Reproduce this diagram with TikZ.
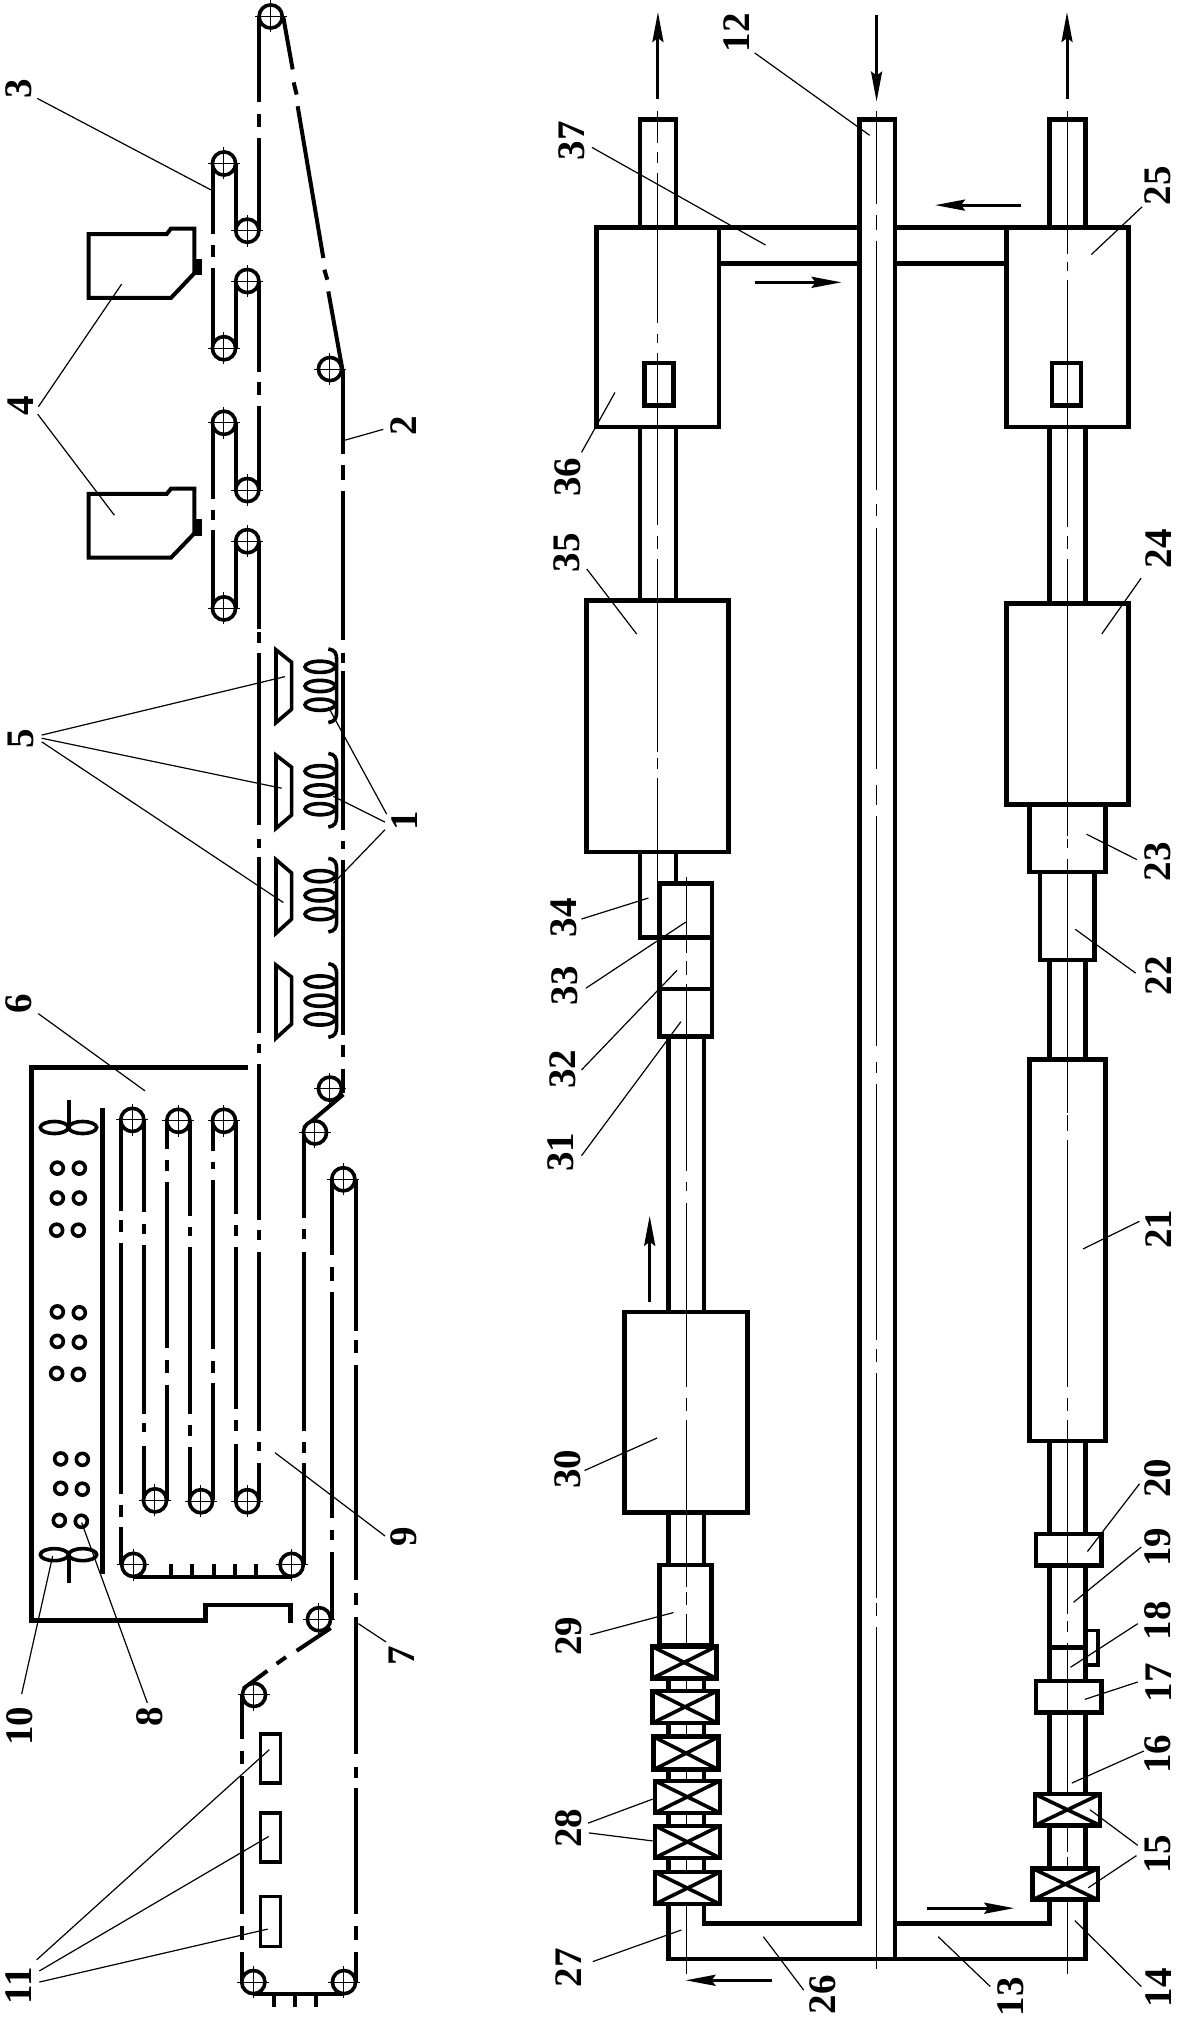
\documentclass[tikz,border=0pt]{standalone}
\usepackage{fontspec}
\usetikzlibrary{arrows.meta}
\newfontfamily\labfont{Liberation Serif Bold}
\tikzset{
  belt/.style={line width=4pt,line cap=butt},
  box/.style={line width=4.6pt,line join=miter},
  pipe/.style={line width=4.6pt},
  small/.style={line width=3.6pt},
  leader/.style={line width=1.2pt},
  axisline/.style={line width=1pt},
  lab/.style={font=\labfont\fontsize{39}{39}\selectfont,rotate=90,inner sep=0pt},
  flow/.style={line width=3pt,-{Stealth[length=30pt,width=11pt,inset=4pt]},shorten >=-1pt},
  zA/.style={x=0.33333pt,y=-0.43365pt},
  zB/.style={x=0.33333pt,y=-0.44643pt,shift={(0pt,-640pt)}},
  zC/.style={x=0.33333pt,y=-0.44524pt,shift={(0pt,-1320pt)}},
  zD/.style={x=0.43384pt,y=-0.43365pt,shift={(500pt,0pt)}},
  zE/.style={x=0.43384pt,y=-0.44643pt,shift={(500pt,-640pt)}},
  zF/.style={x=0.43384pt,y=-0.44524pt,shift={(500pt,-1320pt)}}
}
\newcommand\roller[2]{%
  \draw[line width=3.6pt,fill=white] (#1,#2) circle (11.6pt);
  \draw[line width=1pt] (#1,#2) +(-16pt,0pt) -- +(16pt,0pt) (#1,#2) +(0pt,-16pt) -- +(0pt,16pt);
}
\newcommand\vsegs[2]{\foreach \a/\b in {#2}{\draw[belt] (#1,\a) -- (#1,\b);}}
\newcommand\psegs[2]{\foreach \a/\b in {#2}{\draw[pipe] (#1,\a) -- (#1,\b);}}
\newcommand\csegs[2]{\foreach \a/\b in {#2}{\draw[axisline] (#1,\a) -- (#1,\b);}}
\newcommand\valve[4]{\draw[box,fill=white] (#1,#2) rectangle (#3,#4); \draw[small] (#1,#2) -- (#3,#4) (#1,#4) -- (#3,#2);}
\newcommand\lbl[3]{\node[lab] (n#1) at (#2,#3) {#1};}
\newcommand\coil[1]{%
  \begin{scope}[yshift=-#1*0.44643pt]
    \foreach \c in {60,103,145}{\draw[small] (960,\c) ellipse (15pt and 5.6pt);}
    \draw[small] (985,20) .. controls (1005,22) and (1010,30) .. (1010,45) -- (1010,160) .. controls (1010,175) and (1005,183) .. (985,185);
  \end{scope}}
\begin{document}
\begin{tikzpicture}
\path[use as bounding box,fill=white] (0pt,0pt) rectangle (1178pt,-2018pt);

% ---------- left, top part
\begin{scope}[zA]
  \vsegs{777}{38/235,262/292,318/532,648/858,882/912,937/1130,1248/1450,1458/1482,1510/1568}
  \vsegs{639}{377/540,565/592,618/803,975/1150,1177/1200,1222/1403}
  \vsegs{708}{377/532,648/803,975/1130,1248/1403}
  \vsegs{1030}{851/1048,1072/1108,1133/1475,1505/1530}
  \draw[belt] (850,40) -- (878,160) (881,190) -- (890,218) (893,245) -- (970,595) (973,622) -- (982,645) (985,672) -- (1027,851);
  \foreach \p/\q in {812/38,672/377,742/532,742/648,672/803,672/975,742/1130,742/1248,672/1403,990/851}{\roller{\p}{\q}}
  \draw[box,line width=4pt] (266,540) -- (500,540) -- (513,527) -- (583,527) -- (583,630) -- (513,687) -- (266,687) -- cycle;
  \fill (583,598) rectangle (605,635);
  \draw[box,line width=4pt] (266,1139) -- (500,1139) -- (513,1127) -- (583,1127) -- (583,1230) -- (513,1286) -- (266,1286) -- cycle;
  \fill (583,1197) rectangle (605,1235);
  \lbl{3}{55}{205} \lbl{4}{62}{935} \lbl{2}{1210}{982}
  \draw[leader] (112,227) -- (633,438);
  \draw[leader] (115,938) -- (365,655);
  \draw[leader] (113,955) -- (343,1188);
  \draw[leader] (1035,1015) -- (1150,990);
\end{scope}

% ---------- left, middle part
\begin{scope}[zB]
  \vsegs{777}{30/415,445/465,487/880,905/925,950/1300,1322/1345,1370/1568}
  \vsegs{1030}{70/425,450/468,492/885,908/935,960/1015}
  \vsegs{362}{1075/1278,1300/1325,1350/1568}
  \vsegs{432}{1075/1282,1308/1330,1355/1568}
  \vsegs{501}{1077/1140,1165/1190,1215/1568}
  \vsegs{570}{1077/1290,1315/1335,1360/1568}
  \vsegs{639}{1077/1145,1170/1185,1210/1568}
  \vsegs{708}{1077/1285,1310/1335,1360/1568}
  \vsegs{912}{1103/1295,1320/1342,1370/1568}
  \vsegs{996}{1208/1378,1405/1435,1460/1568}
  \vsegs{1068}{1208/1548}
  \draw[belt] (1030,1018) -- (912,1092);
  \foreach \p/\q in {397/1075,535/1077,672/1077,990/1005,945/1103,1030/1208}{\roller{\p}{\q}}
  \draw[box] (745,958) -- (95,958) -- (95,1568);
  \draw[box] (307,1048) -- (307,1568);
  \draw[small] (207,1030) -- (207,1092);
  \draw[small] (163,1092) ellipse (14pt and 6pt) (248,1092) ellipse (14pt and 6pt);
  \foreach \p/\q in {172/1183,238/1183,172/1250,238/1250,170/1322,235/1322,172/1505,238/1507}{\draw[small] (\p,\q) circle (6pt);}
  \draw[belt,line width=3.6pt] (828,22) -- (875,50) -- (875,155) -- (828,185) -- cycle;
  \draw[belt,line width=3.6pt] (828,258) -- (875,285) -- (875,392) -- (828,422) -- cycle;
  \draw[belt,line width=3.6pt] (828,492) -- (875,522) -- (875,625) -- (828,657) -- cycle;
  \draw[belt,line width=3.6pt] (828,728) -- (875,755) -- (875,860) -- (828,892) -- cycle;
  \coil{0}\coil{234}\coil{469}\coil{705}
  \lbl{5}{62}{222} \lbl{1}{1215}{405} \lbl{6}{57}{815}
  \draw[leader] (125,213) -- (855,82);
  \draw[leader] (125,220) -- (845,332);
  \draw[leader] (125,228) -- (850,588);
  \draw[leader] (1160,390) -- (985,150);
  \draw[leader] (1155,408) -- (1000,350);
  \draw[leader] (1155,425) -- (1000,545);
  \draw[leader] (115,837) -- (435,1010);
\end{scope}

% ---------- left, bottom part
\begin{scope}[zC]
  \vsegs{362}{0/390,415/442,465/550}
  \vsegs{432}{0/210,232/252,282/405}
  \vsegs{501}{0/62,90/120,145/405}
  \vsegs{570}{0/210,235/260,285/405}
  \vsegs{639}{0/65,92/118,142/405}
  \vsegs{708}{0/200,225/250,278/405}
  \vsegs{777}{0/250,275/295,322/405}
  \vsegs{912}{0/250,275/298,322/550}
  \vsegs{996}{0/445,472/495,520/672}
  \vsegs{1068}{45/75,100/585,612/640,667/975,1003/1028,1052/1335,1362/1393,1420/1487}
  \vsegs{726}{842/940,968/998,1025/1335,1362/1393,1420/1487}
  \draw[belt] (992,692) -- (890,743) (858,757) -- (830,772) (802,788) -- (730,828);
  \draw[belt] (400,577) -- (875,577);
  \foreach \p in {513,575,641,705,768}{\draw[belt] (\p,548) -- (\p,577);}
  \draw[belt] (760,1513) -- (1032,1513);
  \foreach \p in {822,885,948}{\draw[belt] (\p,1513) -- (\p,1542);}
  \foreach \p/\q in {465/405,603/407,742/407,400/550,875/550,957/672,762/842,760/1487,1032/1487}{\roller{\p}{\q}}
  \draw[box] (95,0) -- (95,675) -- (617,675) -- (617,640) -- (872,640) -- (872,680);
  \draw[box] (307,0) -- (307,570);
  \draw[small] (207,525) -- (207,590);
  \draw[small] (163,527) ellipse (14pt and 6pt) (248,527) ellipse (14pt and 6pt);
  \foreach \p/\q in {172/48,238/50,170/120,235/122,182/312,247/313,182/378,247/380,178/450,244/452}{\draw[small] (\p,\q) circle (6pt);}
  \draw[small] (782,930) rectangle (842,1040);
  \draw[small] (782,1107) rectangle (842,1217);
  \draw[small] (782,1295) rectangle (842,1407);
  \lbl{9}{1210}{487} \lbl{7}{1205}{755} \lbl{10}{58}{912} \lbl{8}{448}{890} \lbl{11}{55}{1495}
  \draw[leader] (825,298) -- (1155,485);
  \draw[leader] (1075,682) -- (1158,723);
  \draw[leader] (158,530) -- (65,840);
  \draw[leader] (245,455) -- (442,860);
  \draw[leader] (808,965) -- (110,1437);
  \draw[leader] (806,1160) -- (118,1462);
  \draw[leader] (803,1368) -- (118,1487);
\end{scope}

% ---------- right, top part
\begin{scope}[zD]
  \csegs{364}{255/330,350/375,400/745,770/790,815/1210,1235/1265,1290/1568}
  \csegs{868}{255/470,495/530,555/1130,1163/1190,1218/1568}
  \csegs{1308}{255/585,605/625,645/1215,1235/1265,1290/1568}
  \draw[box] (323,525) -- (323,275) -- (406,275) -- (406,525);
  \draw[box] (1267,525) -- (1267,275) -- (1350,275) -- (1350,525);
  \draw[box] (828,1568) -- (828,275) -- (910,275) -- (910,1568);
  \draw[box] (223,525) rectangle (505,985);
  \draw[box] (1167,525) rectangle (1449,985);
  \draw[box] (333,837) rectangle (400,935);
  \draw[box] (1272,837) rectangle (1339,935);
  \psegs{323}{985/1385}\psegs{406}{985/1385}
  \psegs{1267}{985/1392}\psegs{1350}{985/1392}
  \draw[pipe] (505,525) -- (828,525) (505,607) -- (828,607) (910,525) -- (1167,525) (910,607) -- (1167,607);
  \draw[box] (200,1568) -- (200,1385) -- (527,1385) -- (527,1568);
  \draw[box] (1167,1568) -- (1167,1392) -- (1449,1392) -- (1449,1568);
  \draw[flow] (364,228) -- (364,30);
  \draw[flow] (868,35) -- (868,232);
  \draw[flow] (1307,228) -- (1307,30);
  \draw[flow] (1202,473) -- (1005,473);
  \draw[flow] (587,651) -- (785,651);
  \lbl{12}{545}{75} \lbl{37}{165}{325} \lbl{25}{1517}{428} \lbl{36}{157}{1100} \lbl{35}{155}{1275} \lbl{24}{1517}{1265}
  \draw[leader] (587,122) -- (852,312);
  \draw[leader] (212,340) -- (612,565);
  \draw[leader] (1480,477) -- (1363,587);
  \draw[leader] (188,1043) -- (265,905);
  \draw[leader] (200,1312) -- (315,1462);
  \draw[leader] (1478,1333) -- (1387,1462);
\end{scope}

% ---------- right, middle part
\begin{scope}[zE]
  \csegs{364}{0/250,265/290,310/540}
  \csegs{429}{530/700,720/750,770/1190,1215/1235,1260/1568}
  \csegs{868}{0/290,325/370,395/910,945/970,995/1568}
  \csegs{1308}{0/440,445/465,490/1060,1065/1100,1120/1568}
  \draw[box] (200,0) -- (200,475) -- (527,475) -- (527,0);
  \draw[box] (1167,0) -- (1167,368) -- (1449,368) -- (1449,0);
  \draw[box] (323,475) -- (323,667) -- (368,667);
  \draw[box] (406,475) -- (406,545);
  \draw[box] (368,545) rectangle (489,888);
  \draw[box] (368,667) -- (489,667) (368,782) -- (489,782);
  \psegs{388}{888/1505}\psegs{470}{888/1505}
  \draw[box] (287,1568) -- (287,1505) -- (571,1505) -- (571,1568);
  \draw[box] (1220,368) rectangle (1395,520);
  \draw[box] (1245,520) rectangle (1370,717);
  \psegs{1267}{717/940}\psegs{1350}{717/940}
  \draw[box] (1220,1568) -- (1220,940) -- (1395,940) -- (1395,1568);
  \psegs{828}{0/1568}\psegs{910}{0/1568}
  \draw[flow] (345,1482) -- (345,1292);
  \lbl{34}{148}{622} \lbl{33}{150}{775} \lbl{32}{145}{962} \lbl{31}{140}{1147} \lbl{23}{1517}{497} \lbl{22}{1517}{752} \lbl{21}{1517}{1320}
  \draw[leader] (188,625) -- (342,578);
  \draw[leader] (198,780) -- (428,632);
  \draw[leader] (188,963) -- (408,740);
  \draw[leader] (188,1155) -- (417,855);
  \draw[leader] (1468,492) -- (1352,435);
  \draw[leader] (1465,746) -- (1326,648);
  \draw[leader] (1474,1302) -- (1344,1364);
\end{scope}

% ---------- right, bottom part
\begin{scope}[zF]
  \csegs{429}{0/150,175/205,225/600,610/640,660/1468}
  \csegs{868}{0/35,65/95,120/625,635/665,690/1458}
  \csegs{1308}{0/150,175/205,225/660,675/700,725/1195,1205/1230,1250/1468}
  \draw[box] (287,0) -- (287,432) -- (571,432) -- (571,0);
  \psegs{388}{432/550}\psegs{470}{432/550}
  \draw[box] (368,550) rectangle (488,730);
  \psegs{388}{805/833,905/936,1010/1035,1107/1136,1208/1240}
  \psegs{470}{805/833,905/936,1010/1035,1107/1136,1208/1240}
  \valve{350}{733}{499}{805}
  \valve{352}{833}{501}{905}
  \valve{354}{936}{504}{1010}
  \valve{357}{1035}{507}{1107}
  \valve{357}{1136}{507}{1208}
  \valve{357}{1240}{507}{1312}
  \draw[box] (828,0) -- (828,1355) -- (470,1355) -- (470,1312);
  \draw[box] (388,1312) -- (388,1435) -- (910,1435) -- (910,0);
  \draw[box] (910,1435) -- (1350,1435) -- (1350,1302);
  \draw[box] (910,1355) -- (1267,1355) -- (1267,1302);
  \draw[box] (1220,0) -- (1220,272) -- (1395,272) -- (1395,0);
  \psegs{1267}{272/481,551/811,882/1065,1135/1232}
  \psegs{1350}{272/481,551/811,882/1065,1135/1232}
  \draw[box] (1235,481) rectangle (1386,551);
  \draw[box] (1235,811) rectangle (1386,882);
  \draw[small] (1352,697) rectangle (1378,775);
  \draw[pipe] (1267,735) -- (1350,735);
  \valve{1233}{1065}{1383}{1135}
  \valve{1228}{1232}{1378}{1302}
  \draw[flow] (985,1321) -- (1183,1321);
  \draw[flow] (627,1483) -- (430,1483);
  \lbl{30}{155}{335} \lbl{29}{158}{710} \lbl{28}{158}{1142} \lbl{27}{158}{1455} \lbl{26}{745}{1515} \lbl{13}{1178}{1520}
  \lbl{14}{1517}{1500} \lbl{15}{1517}{1200} \lbl{16}{1517}{975} \lbl{17}{1517}{815} \lbl{18}{1517}{675} \lbl{19}{1517}{510} \lbl{20}{1517}{355}
  \draw[leader] (195,338) -- (362,265);
  \draw[leader] (208,707) -- (400,657);
  \draw[leader] (203,1130) -- (352,1076);
  \draw[leader] (205,1152) -- (352,1170);
  \draw[leader] (214,1441) -- (418,1370);
  \draw[leader] (700,1505) -- (607,1385);
  \draw[leader] (1130,1497) -- (1010,1385);
  \draw[leader] (1478,1497) -- (1325,1349);
  \draw[leader] (1470,1180) -- (1360,1100);
  \draw[leader] (1467,1203) -- (1356,1275);
  \draw[leader] (1484,968) -- (1318,1040);
  \draw[leader] (1470,813) -- (1348,852);
  \draw[leader] (1470,682) -- (1315,780);
  \draw[leader] (1478,510) -- (1322,634);
  \draw[leader] (1474,368) -- (1354,520);
\end{scope}
\end{tikzpicture}
\end{document}
